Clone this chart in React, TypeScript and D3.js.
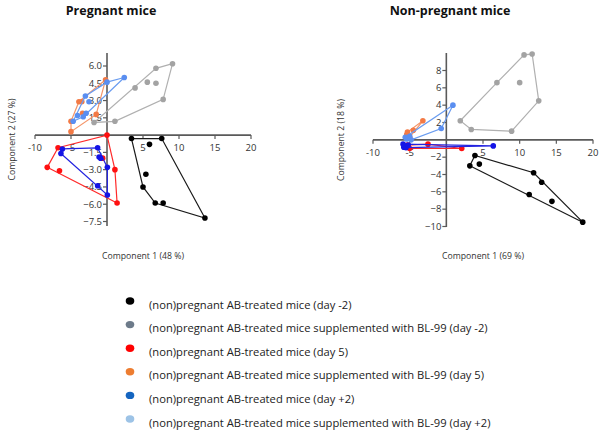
import React, { useRef, useEffect } from "react";
import * as d3 from "d3";

type Pt = [number, number];

// Pregnant mice: PCA scores (component 1, component 2) per group
const pregAbDayM2: Pt[] = [[3.4, -0.3], [7.6, -0.3], [5.9, -0.8], [5.4, -3.4], [5.0, -4.5], [6.7, -5.9], [7.8, -5.9], [13.6, -7.2]];
const pregBlDayM2: Pt[] = [[9.1, 6.2], [6.8, 5.8], [5.6, 4.6], [6.8, 4.5], [3.9, 4.1], [7.8, 3.1], [1.1, 1.2], [-1.8, 1.1]];
const pregAbDay5: Pt[] = [[0, 0], [-6.8, -1.1], [-8.3, -2.8], [-6.6, -3.1], [-0.6, -2.0], [1.1, -3.0], [1.4, -5.9]];
const pregBlDay5: Pt[] = [[-0.2, 4.8], [-3.9, 2.9], [-3.5, 2.9], [-3.4, 1.9], [-5.0, 1.2], [-5.0, 0.3], [-1.5, 1.8]];
const pregAbDay2: Pt[] = [[-6.2, -1.2], [-6.4, -1.6], [-1.3, -1.1], [-1.1, -1.9], [-0.9, -2.0], [0.05, -2.8], [-1.3, -4.4], [0.05, -5.2]];
const pregBlDay2: Pt[] = [[2.4, 5.0], [0.0, 4.6], [-3.0, 3.4], [-2.5, 2.9], [-2.9, 1.9], [-4.1, 1.7], [-4.7, 1.2], [-3.3, 1.6]];

// Non-pregnant mice
const npAbDayM2: Pt[] = [[3.9, -1.8], [3.2, -3.0], [4.5, -2.8], [11.9, -3.8], [13.0, -4.9], [11.3, -6.3], [14.4, -7.1], [18.6, -9.5]];
const npBlDayM2: Pt[] = [[10.6, 9.8], [11.7, 9.9], [6.9, 6.6], [10.0, 6.6], [12.6, 4.5], [1.9, 2.2], [3.4, 1.2], [8.9, 1.0]];
const npAbDay5: Pt[] = [[-2.5, -0.5], [2.1, -1.0], [-5.0, -1.0], [-5.6, -0.8], [-5.3, -0.6]];
const npBlDay5: Pt[] = [[-3.2, 2.2], [-5.3, 0.9], [-4.5, 1.1], [-5.4, 0.6], [-5.0, 0.3]];
const npAbDay2: Pt[] = [[6.4, -0.7], [-5.8, -0.85], [-5.5, -0.9], [-5.2, -0.6], [-5.9, -0.5]];
const npBlDay2: Pt[] = [[0.9, 4.0], [-0.7, 1.3], [-5.4, 0.1], [-4.8, 0.0], [-5.6, 0.3], [-5.0, 0.4]];

const groupLabels = [
    "(non)pregnant AB-treated mice (day -2)",
    "(non)pregnant AB-treated mice supplemented with BL-99 (day -2)",
    "(non)pregnant AB-treated mice (day 5)",
    "(non)pregnant AB-treated mice supplemented with BL-99 (day 5)",
    "(non)pregnant AB-treated mice (day +2)",
    "(non)pregnant AB-treated mice supplemented with BL-99 (day +2)",
];
const legendColors = ["#000000", "#6d7b8a", "#ff0000", "#ed7d31", "#1565c0", "#9dc3e6"];
const dotColors = ["#000000", "#a3a3a3", "#ff1010", "#f37a45", "#1414e6", "#5a8ef0"];
const lineColors = ["#1a1a1a", "#b0b0b0", "#ff2a2a", "#f5966a", "#2323e0", "#6a9cf0"];
const drawOrder = [1, 0, 3, 5, 2, 4];

const pregXTicks = [-10, -5, 5, 10, 15, 20];
const pregYTicks = [-7.5, -6, -4.5, -3, -1.5, 1.5, 3, 4.5, 6];
const npXTicks = [-10, -5, 5, 10, 15, 20];
const npYTicks = [-10, -8, -6, -4, -2, 2, 4, 6, 8];

interface PanelCfg {
    title: string;
    titleX: number;
    xLabel: string;
    yLabel: string;
    groups: Pt[][];
    xRange: [number, number];
    yDomain: [number, number];
    yRange: [number, number];
    xTicks: number[];
    yTicks: number[];
    yFmt: (v: number) => string;
    yAxisTop: number;
    yAxisBottom: number;
    yLabelX: number;
}

const panels: PanelCfg[] = [
    {
        title: "Pregnant mice",
        titleX: 111,
        xLabel: "Component 1 (48 %)",
        yLabel: "Component 2 (27 %)",
        groups: [pregAbDayM2, pregBlDayM2, pregAbDay5, pregBlDay5, pregAbDay2, pregBlDay2],
        xRange: [35, 251],
        yDomain: [-7.5, 6],
        yRange: [221.5, 66],
        xTicks: pregXTicks,
        yTicks: pregYTicks,
        yFmt: d3.format(".1f"),
        yAxisTop: 53,
        yAxisBottom: 226,
        yLabelX: 12,
    },
    {
        title: "Non-pregnant mice",
        titleX: 450,
        xLabel: "Component 1 (69 %)",
        yLabel: "Component 2 (18 %)",
        groups: [npAbDayM2, npBlDayM2, npAbDay5, npBlDay5, npAbDay2, npBlDay2],
        xRange: [373, 593],
        yDomain: [-10, 8],
        yRange: [226.5, 70.5],
        xTicks: npXTicks,
        yTicks: npYTicks,
        yFmt: d3.format("d"),
        yAxisTop: 53,
        yAxisBottom: 227,
        yLabelX: 341,
    },
];

const FONT = "'Open Sans', 'Noto Sans', sans-serif";

const App: React.FC = () => {
    const svgRef = useRef<SVGSVGElement | null>(null);

    useEffect(() => {
        const svg = d3.select(svgRef.current!);
        svg.selectAll("*").remove();
        svg.append("rect").attr("width", 600).attr("height", 431).attr("fill", "#fff");

        panels.forEach((p) => {
            const x = d3.scaleLinear().domain([-10, 20]).range(p.xRange);
            const y = d3.scaleLinear().domain(p.yDomain).range(p.yRange);
            const g = svg.append("g");
            const x0 = x(0);
            const y0 = y(0);
            const cx = (p.xRange[0] + p.xRange[1]) / 2;

            // title
            g.append("text")
                .attr("x", p.titleX)
                .attr("y", 15)
                .attr("text-anchor", "middle")
                .style("font", `bold 12.5px ${FONT}`)
                .attr("fill", "#111")
                .text(p.title);

            // axes through the origin
            const axisColor = "#5a5a5a";
            g.append("line")
                .attr("x1", p.xRange[0]).attr("x2", p.xRange[1])
                .attr("y1", y0).attr("y2", y0)
                .attr("stroke", axisColor).attr("stroke-width", 1.6);
            g.append("line")
                .attr("x1", x0).attr("x2", x0)
                .attr("y1", p.yAxisTop).attr("y2", p.yAxisBottom)
                .attr("stroke", axisColor).attr("stroke-width", 1.6);

            const xt = g.append("g").selectAll("g").data(p.xTicks).join("g")
                .attr("transform", (d) => `translate(${x(d)},${y0})`);
            xt.append("line").attr("y1", 0).attr("y2", 4).attr("stroke", axisColor).attr("stroke-width", 1.2);
            xt.append("text")
                .attr("y", 16)
                .attr("text-anchor", "middle")
                .style("font", `9.5px ${FONT}`)
                .attr("fill", "#333")
                .text((d) => String(d));

            const yt = g.append("g").selectAll("g").data(p.yTicks).join("g")
                .attr("transform", (d) => `translate(${x0},${y(d)})`);
            yt.append("line").attr("x1", 0).attr("x2", -4).attr("stroke", axisColor).attr("stroke-width", 1.2);
            yt.append("text")
                .attr("x", -5)
                .attr("dy", "0.35em")
                .attr("text-anchor", "end")
                .style("font", `9.5px ${FONT}`)
                .attr("fill", "#333")
                .text((d) => p.yFmt(d));

            // axis titles
            g.append("text")
                .attr("x", cx)
                .attr("y", 259)
                .attr("text-anchor", "middle")
                .style("font", `8.7px ${FONT}`)
                .attr("fill", "#333")
                .text(p.xLabel);
            const ymid = (p.yAxisTop + p.yAxisBottom) / 2;
            g.append("text")
                .attr("transform", `translate(${p.yLabelX},${ymid}) rotate(-90)`)
                .attr("dy", "0.35em")
                .attr("text-anchor", "middle")
                .style("font", `8.7px ${FONT}`)
                .attr("fill", "#333")
                .text(p.yLabel);

            // convex hull + points for each group
            drawOrder.forEach((i) => {
                const pts = p.groups[i].map((d) => [x(d[0]), y(d[1])] as [number, number]);
                const hull = d3.polygonHull(pts);
                if (hull) {
                    g.append("path")
                        .attr("d", "M" + hull.map((h) => h.join(",")).join("L") + "Z")
                        .attr("fill", "none")
                        .attr("stroke", lineColors[i])
                        .attr("stroke-width", 1.2);
                }
                g.append("g").selectAll("circle").data(pts).join("circle")
                    .attr("cx", (d) => d[0])
                    .attr("cy", (d) => d[1])
                    .attr("r", 2.8)
                    .attr("fill", dotColors[i]);
            });
        });

        // legend
        const rowY = d3.scalePoint<number>().domain(d3.range(groupLabels.length)).range([301, 419]);
        const lg = svg.append("g").selectAll("g").data(groupLabels).join("g")
            .attr("transform", (_d, i) => `translate(130,${rowY(i)})`);
        lg.append("ellipse")
            .attr("rx", 4.3)
            .attr("ry", 3.7)
            .attr("fill", (_d, i) => legendColors[i]);
        lg.append("text")
            .attr("x", 19)
            .attr("y", 7.5)
            .style("font", `11.2px ${FONT}`)
            .attr("fill", "#222")
            .text((d) => d);
    }, []);

    return (
        <svg
            ref={svgRef}
            width={600}
            height={431}
            style={{ position: "absolute", left: 0, top: 0 }}
        />
    );
};

export default App;
